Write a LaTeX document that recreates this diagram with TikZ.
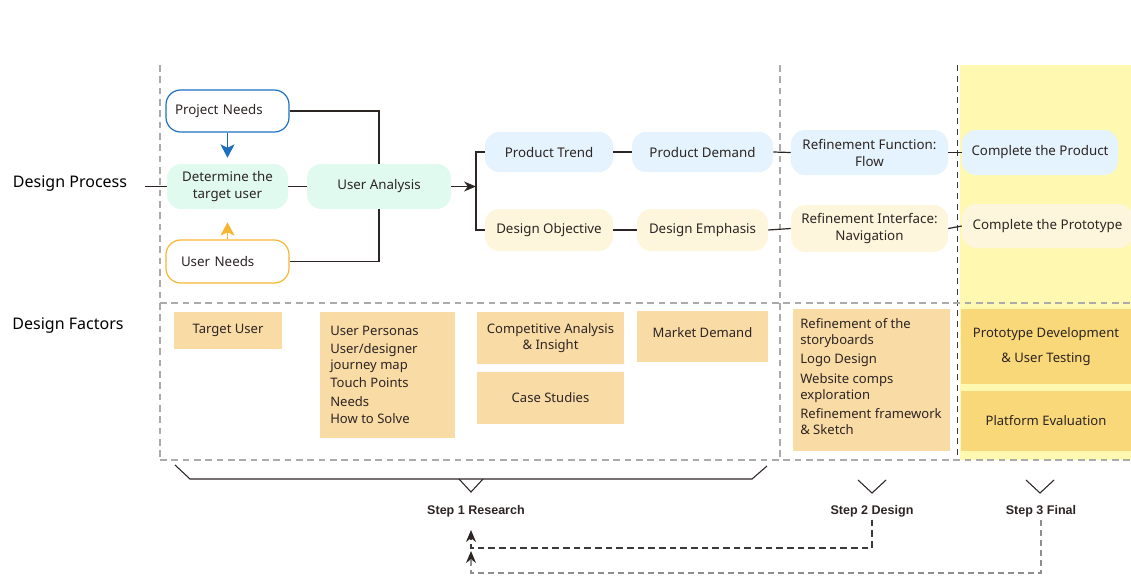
\documentclass[tikz,border=0pt]{standalone}
\usepackage{fontspec}
\setmainfont{Noto Sans}
\newfontfamily\stepfamily{Liberation Sans}
\usetikzlibrary{arrows.meta}
\definecolor{mint}{HTML}{E0FAEF}
\definecolor{lblue}{HTML}{E4F3FD}
\definecolor{lcream}{HTML}{FEF6DC}
\definecolor{factor}{HTML}{F9DCA5}
\definecolor{factortwo}{HTML}{F8D878}
\definecolor{ybg}{HTML}{FEF8B0}
\definecolor{pblue}{HTML}{1C6FBF}
\definecolor{porange}{HTML}{F6B630}
\definecolor{linec}{HTML}{2D2424}
\definecolor{dashg}{HTML}{ABABAB}
\definecolor{dashd}{HTML}{3A3A3A}
\definecolor{loopg}{HTML}{8E8E8E}
\newcommand\procfont{\fontsize{10pt}{12.75pt}\selectfont}
\newcommand\factfont{\fontsize{9.8pt}{12pt}\selectfont}
\begin{document}
\begin{tikzpicture}[x=0.75pt,y=-0.75pt,
  sz/.style 2 args={minimum width=#1*0.75pt, minimum height=#2*0.75pt},
  rbox/.style={rounded corners=10.5pt, inner sep=0pt, align=center, font=\procfont, text=linec},
  fbox/.style={fill=#1, inner sep=0pt, align=center, font=\factfont, text=linec},
  link/.style={draw=linec, line width=0.9pt},
  grid/.style={draw=dashg, line width=0.8pt, dash pattern=on 5pt off 3.5pt},
  griddark/.style={draw=dashd, line width=0.7pt, dash pattern=on 4.5pt off 3.5pt},
  brace/.style={draw=linec, line width=0.8pt},
  steplabel/.style={font=\stepfamily\fontsize{9.4pt}{11pt}\selectfont\bfseries, text=linec, inner sep=2pt},
  rowlabel/.style={font=\fontsize{12pt}{14pt}\selectfont, text=black},
  listtext/.style={anchor=west, align=left, font=\factfont, text=linec, inner sep=0pt},
  plaintext/.style={align=center, font=\factfont, text=linec, inner sep=0pt},
  loophead/.style={-{Stealth[length=9pt, width=7.5pt, color=linec]}},
  needhead/.style={-{Stealth[length=10pt, width=10.5pt, inset=2.5pt]}}
]
\useasboundingbox (0,0) rectangle (1131,576);

% final stage background
\fill[ybg] (960,65) rectangle (1131,460);

% stage separators
\draw[grid] (160,65) -- (160,460);
\draw[grid] (780,65) -- (780,460);
\draw[griddark] (957,65) -- (957,460);
\draw[grid] (160,303) -- (1131,303);
\draw[grid] (160,460) -- (1131,460);

% row labels
\node[rowlabel] (lproc) at (70,184) {Design Process};
\node[rowlabel] (lfact) at (68,326) {Design Factors};

% design process
\node[rbox, draw=pblue, fill=white, line width=0.9pt, sz={123}{42}, rounded corners=11pt,
      text width=105*0.75pt, align=left] (proj) at (227.5,111) {Project Needs};
\node[rbox, fill=mint, sz={121}{45}] (det) at (227.5,186.5) {Determine the\\target user};
\node[rbox, draw=porange, fill=white, line width=0.9pt, sz={123}{43}, rounded corners=11pt,
      text width=93*0.75pt, align=left] (uneeds) at (227.5,261.5) {User Needs};
\node[rbox, fill=mint, sz={144}{45}] (ua) at (379,186.5) {User Analysis};

\node[rbox, fill=lblue, sz={128}{40}] (pt) at (549,152) {Product Trend};
\node[rbox, fill=lblue, sz={141}{40}] (pd) at (702.5,152) {Product Demand};
\node[rbox, fill=lcream, sz={128}{42}] (dob) at (549,230) {Design Objective};
\node[rbox, fill=lcream, sz={131}{42}] (dem) at (702.5,230) {Design Emphasis};

\node[rbox, fill=lblue, sz={157}{45}] (rf) at (869.5,152.5) {Refinement Function:\\Flow};
\node[rbox, fill=lcream, sz={157}{47}] (ri) at (869.5,228.5) {Refinement Interface:\\Navigation};
\node[rbox, fill=lblue, sz={156}{45}] (cp) at (1040,152.5) {Complete the Product};
\node[rbox, fill=lcream, sz={171}{44}] (cpt) at (1047.5,226) {Complete the Prototype};

\coordinate (inlet) at (145,186.5);
\coordinate (fork) at (476,186.5);
\draw[link] (inlet) -- (det.west);
\draw[link] (det.east) -- (ua.west);
\draw[link] (proj.east) -| (ua.north);
\draw[link] (uneeds.east) -| (ua.south);
\draw[link, -{Stealth[length=9pt, width=7.5pt]}] (ua.east) -- (fork);
\draw[link] (pt.west) -| (fork) |- (dob.west);
\draw[link] (pt.east) -- (pd.west);
\draw[link] (pd.east) -- (rf.west);
\draw[link] (dob.east) -- (dem.west);
\draw[link] (dem.east) -- (ri.west);
\draw[link] (rf.east) -- (cp.west);
\draw[link] (ri.east) -- (cpt.west);

\draw[draw=pblue, line width=1.1pt, needhead, shorten >=6*0.75pt]
  (proj.south) -- (det.north);
\draw[draw=porange, line width=1.1pt, needhead, shorten >=13*0.75pt]
  (uneeds.north) -- (det.south);

% design factors
\node[fbox=factor, sz={108}{37}] (tu) at (228,330.5) {Target User};
\node[fbox=factor, sz={135}{126}] (up) at (387.5,375) {};
\node[listtext] (uptext) at (330,375) {%
  User Personas\\[1.2pt]
  User/designer\\
  journey map\\[1.5pt]
  Touch Points\\[2pt]
  Needs\\[1pt]
  How to Solve};
\node[fbox=factor, sz={147}{52}] (ca) at (550.5,338) {Competitive Analysis\\\& Insight};
\node[fbox=factor, sz={147}{52}] (cs) at (550.5,398) {Case Studies};
\node[fbox=factor, sz={131}{51}] (md) at (702.5,336.5) {};
\node[plaintext] (mdtext) at (702.5,333) {Market Demand};
\node[fbox=factor, sz={157}{142}] (rs) at (871.5,380) {};
\node[listtext] (rstext) at (800,377) {%
  Refinement of the\\
  storyboards\\[2pt]
  Logo Design\\[3pt]
  Website comps\\
  exploration\\[2.5pt]
  Refinement framework\\
  \& Sketch};
\node[fbox=factortwo, sz={170}{75}] (pdv) at (1046,346.5) {Prototype Development\\[6.5pt]\& User Testing};
\node[fbox=factortwo, sz={170}{60}] (pe) at (1046,421) {Platform Evaluation};

% stage brackets
\draw[brace] (175,465) -- (190,479) -- (752,479) -- (767,466);
\draw[brace] (459,479) -- (471,492) -- (483,479);
\draw[brace] (858,480) -- (872,493) -- (886,480);
\draw[brace] (1026,480) -- (1040,493) -- (1054,480);

\node[steplabel] (s1) at (476,511) {Step 1 Research};
\node[steplabel] (s2) at (872,511) {Step 2 Design};
\node[steplabel] (s3) at (1041,511) {Step 3 Final};

% iteration loops back to research
\coordinate (r1) at (471,530);
\coordinate (r2) at (471,551);
\draw[draw=dashd, line width=0.9pt, dash pattern=on 5pt off 3pt, loophead]
  (s2.south) |- (471,548) -- (r1);
\draw[draw=loopg, line width=1.4pt, dash pattern=on 5pt off 2.5pt, loophead]
  (s3.south) |- (471,573) -- (r2);
\end{tikzpicture}
\end{document}
